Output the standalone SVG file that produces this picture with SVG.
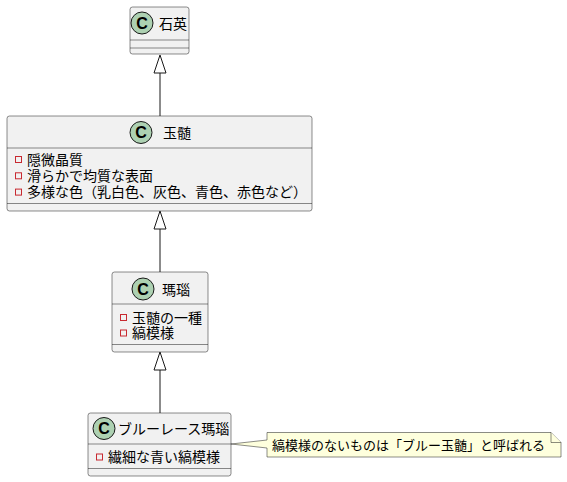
<svg xmlns="http://www.w3.org/2000/svg" width="567" height="482" viewBox="0 0 567 482">
<style>
.box{fill:#F1F1F1;stroke:#181818;stroke-width:0.5}
.sep{stroke:#181818;stroke-width:0.5}
.circ{fill:#ADD1B2;stroke:#181818;stroke-width:1}
.cl{font-family:"Liberation Sans","DejaVu Sans",sans-serif;font-weight:bold;font-size:16px;fill:#000}
.t{font-family:"Noto Sans CJK JP","Noto Sans",sans-serif;font-size:14px;fill:#000}
.n{font-family:"Noto Sans CJK JP","Noto Sans",sans-serif;font-size:13px;fill:#000}
.ic{fill:none;stroke:#C82930;stroke-width:1}
.edge{stroke:#181818;stroke-width:1;fill:none}
.head{fill:#FFFFFF;stroke:#181818;stroke-width:1}
.note{fill:#FEFFDD;stroke:#181818;stroke-width:0.5}
</style>
<g id="connectors">
<line class="edge" x1="160" y1="73" x2="160" y2="116"/>
<polygon class="head" points="160,55 154,73 166,73"/>
<line class="edge" x1="160" y1="229" x2="160" y2="272"/>
<polygon class="head" points="160,211 154,229 166,229"/>
<line class="edge" x1="160" y1="370" x2="160" y2="413"/>
<polygon class="head" points="160,352 154,370 166,370"/>
</g>
<g id="quartz">
<rect class="box" x="130" y="7" width="59" height="47" rx="2.5"/>
<circle class="circ" cx="142" cy="23" r="11"/>
<text class="cl" x="142" y="28.8" text-anchor="middle">C</text>
<text class="t" x="159" y="28.5">石英</text>
<line class="sep" x1="130" y1="40" x2="189" y2="40"/>
<line class="sep" x1="130" y1="48" x2="189" y2="48"/>
</g>
<g id="chalcedony">
<rect class="box" x="7" y="116" width="305" height="95" rx="2.5"/>
<circle class="circ" cx="141" cy="132.5" r="11"/>
<text class="cl" x="141" y="138.3" text-anchor="middle">C</text>
<text class="t" x="163" y="138">玉髄</text>
<line class="sep" x1="7" y1="148" x2="312" y2="148"/>
<rect class="ic" x="15.5" y="156.5" width="6" height="6"/>
<text class="t" x="27" y="164.5">隠微晶質</text>
<rect class="ic" x="15.5" y="172.8" width="6" height="6"/>
<text class="t" x="27" y="180.8">滑らかで均質な表面</text>
<rect class="ic" x="15.5" y="189.1" width="6" height="6"/>
<text class="t" x="27" y="197.1">多様な色（乳白色、灰色、青色、赤色など）</text>
<line class="sep" x1="7" y1="203.5" x2="312" y2="203.5"/>
</g>
<g id="agate">
<rect class="box" x="112" y="272" width="96" height="80" rx="2.5"/>
<circle class="circ" cx="143" cy="289" r="11"/>
<text class="cl" x="143" y="294.8" text-anchor="middle">C</text>
<text class="t" x="162" y="294.5">瑪瑙</text>
<line class="sep" x1="112" y1="304" x2="208" y2="304"/>
<rect class="ic" x="120.5" y="314.5" width="6" height="6"/>
<text class="t" x="132" y="322.5">玉髄の一種</text>
<rect class="ic" x="120.5" y="330" width="6" height="6"/>
<text class="t" x="132" y="338">縞模様</text>
<line class="sep" x1="112" y1="344.5" x2="208" y2="344.5"/>
</g>
<g id="blue-lace-agate">
<rect class="box" x="88" y="413" width="143" height="63" rx="2.5"/>
<circle class="circ" cx="104" cy="428.5" r="11"/>
<text class="cl" x="104" y="434.3" text-anchor="middle">C</text>
<text class="t" x="118" y="434">ブルーレース瑪瑙</text>
<line class="sep" x1="88" y1="444" x2="231" y2="444"/>
<rect class="ic" x="96.5" y="454" width="6" height="6"/>
<text class="t" x="108" y="462">繊細な青い縞模様</text>
<line class="sep" x1="88" y1="468.5" x2="231" y2="468.5"/>
</g>
<g id="note">
<path class="note" d="M267,432.5 L551,432.5 L561,442.5 L561,457 L267,457 L267,448 L231,444 L267,440 Z"/>
<path class="note" d="M551,432.5 L551,442.5 L561,442.5"/>
<text class="n" x="272" y="449.5">縞模様のないものは「ブルー玉髄」と呼ばれる</text>
</g>
</svg>
